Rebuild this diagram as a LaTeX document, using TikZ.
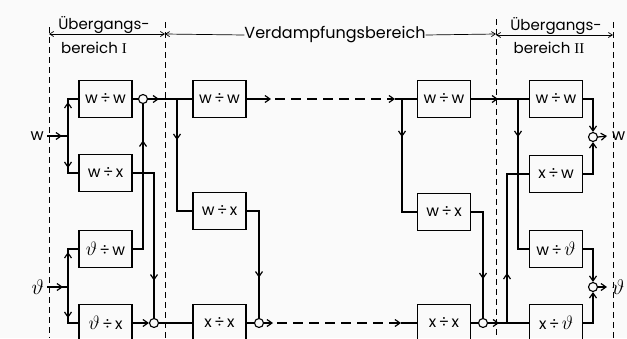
\RequirePackage{fix-cm}
\documentclass[tikz,border=0pt]{standalone}
\usepackage{fontspec}
\setmainfont{Poppins}
\newfontfamily\romnum{Liberation Serif}
\usetikzlibrary{arrows.meta,decorations.markings}
\newcommand{\thv}{\scalebox{1.25}{$\vartheta$}}
\begin{document}
\begin{tikzpicture}[x=1pt,y=-1pt,
  box/.style={draw,line width=1.1pt,minimum width=53pt,minimum height=37pt,inner sep=0pt,font=\fontsize{15.5}{15.5}\selectfont},
  sumc/.style={draw,circle,line width=1.1pt,minimum size=9pt,inner sep=0pt},
  conn/.style={line width=1.2pt},
  marr/.style={postaction={decorate},decoration={markings,mark=at position #1 with {\arrow{Straight Barb[length=5pt,width=7pt]}}}},
  endarr/.style={-{Straight Barb[length=5pt,width=7pt]}},
  hdash/.style={line width=1.2pt,dash pattern=on 10pt off 6pt,dash phase=12pt},
  vdash/.style={line width=0.9pt,dash pattern=on 6pt off 4pt},
  dimline/.style={line width=0.7pt},
  lab/.style={font=\fontsize{16}{16}\selectfont,inner sep=0pt},
  sublab/.style={font=\fontsize{15}{15}\selectfont,inner sep=0pt},
  io/.style={font=\fontsize{16}{16}\selectfont,inner sep=3pt}
]
\useasboundingbox (0,0) rectangle (627,338);
\fill[gray!4] (0,0) rectangle (627,338);
\clip (0,0) rectangle (627,338);

% region boundaries
\draw[vdash] (49,27) -- (49,338);
\draw[vdash] (165,22) -- (165,338);
\draw[vdash] (496,19) -- (496,338);
\draw[vdash] (613,22) -- (613,338);

% region labels
\node[sublab,anchor=base] (u1) at (104,29) {Übergangs-};
\node[sublab,anchor=base] (r1) at (94,53) {bereich {\romnum I}};
\node[lab] (vb) at (335,35) {Verdampfungsbereich};
\node[sublab,anchor=base] (u2) at (556,30) {Übergangs-};
\node[sublab,anchor=base] (r2) at (549,53) {bereich {\romnum II}};
\coordinate (m1) at (49,34);
\coordinate (m2) at (165,34);
\coordinate (m3) at (496,34);
\coordinate (m3b) at (496,35);
\coordinate (m4) at (613,35);
\draw[dimline,{Straight Barb[length=4pt,width=5pt]}-{Straight Barb[length=4pt,width=5pt]}] (m1) -- (m2);
\draw[dimline,{Straight Barb[length=4pt,width=5pt]}-] (m2) -- (vb.west);
\draw[dimline,-{Straight Barb[length=4pt,width=5pt]}] (vb.east) -- (m3);
\draw[dimline,{Straight Barb[length=4pt,width=5pt]}-{Straight Barb[length=4pt,width=5pt]}] (m3b) -- (m4);

% boxes
\node[box] (b11) at (105.5,99) {w\,÷\,w};
\node[box] (b12) at (105.5,173) {w\,÷\,x};
\node[box] (b13) at (105.5,249) {\thv\,÷\,w};
\node[box] (b14) at (105.5,323) {\thv\,÷\,x};
\node[box] (b21) at (219.5,99) {w\,÷\,w};
\node[box] (b22) at (219.5,211) {w\,÷\,x};
\node[box] (b24) at (219.5,323) {x\,÷\,x};
\node[box] (b31) at (444,99) {w\,÷\,w};
\node[box] (b32) at (444,212) {w\,÷\,x};
\node[box] (b34) at (444,323) {x\,÷\,x};
\node[box] (b41) at (556,99) {w\,÷\,w};
\node[box] (b42) at (556,174) {x\,÷\,w};
\node[box] (b43) at (556,249) {w\,÷\,\thv};
\node[box] (b44) at (556,323) {x\,÷\,\thv};

% summing points
\node[sumc] (s1) at (143,99) {};
\node[sumc] (s2) at (154,323) {};
\node[sumc] (s3) at (259,323) {};
\node[sumc] (s4) at (483,323) {};
\node[sumc] (s5) at (593,137) {};
\node[sumc] (s6) at (593,287) {};

% inputs / outputs
\node[io,anchor=east] (inw) at (47,136) {w};
\node[io,anchor=east,font=\fontsize{17}{17}\selectfont] (inth) at (47,287) {\thv};
\node[io,anchor=west,inner sep=5pt] (outw) at (607,136) {w};
\node[io,anchor=west,inner sep=5pt,font=\fontsize{17}{17}\selectfont] (outth) at (607,287) {\thv};

% junctions
\coordinate (jw) at (68,136);
\coordinate (jt) at (68,287);
\coordinate (ja) at (177,99);
\coordinate (jb) at (402,99);
\coordinate (jc) at (518,99);
\coordinate (jd) at (507,323);
\coordinate (d1) at (271,99);
\coordinate (d2) at (395,99);
\coordinate (d3) at (273,323);
\coordinate (d4) at (401,323);

% transition region I
\draw[conn,marr=15pt] (inw.east) -- (jw);
\draw[conn,marr=34pt] (jw) |- (b11.west);
\draw[conn,marr=32pt] (jw) |- (b12.west);
\draw[conn,marr=16pt] (inth.east) -- (jt);
\draw[conn,marr=35pt] (jt) |- (b13.west);
\draw[conn,marr=31pt] (jt) |- (b14.west);
\draw[conn] (b11.east) -- (s1.west);
\draw[conn,marr=119pt] (b13.east) -| (s1.south);
\draw[conn,marr=129pt] (b12.east) -| (s2.north);
\draw[conn,endarr] (b14.east) -- (s2.west);

% evaporation region
\draw[conn,marr=11pt] (s1.east) -- (b21.west);
\draw[conn,marr=41pt] (ja) |- (b22.west);
\draw[conn,endarr] (b21.east) -- (d1);
\draw[hdash,endarr] (d1) -- (d2);
\draw[conn] (d2) -- (b31.west);
\draw[conn,marr=38pt] (jb) |- (b32.west);
\draw[conn,marr=79pt] (b22.east) -| (s3.north);
\draw[conn] (s2.east) -- (b24.west);
\draw[conn] (b24.east) -- (s3.west);
\draw[conn,endarr] (s3.east) -- (d3);
\draw[hdash,endarr] (d3) -- (d4);
\draw[conn] (d4) -- (b34.west);
\draw[conn,marr=79pt] (b32.east) -| (s4.north);
\draw[conn] (b34.east) -- (s4.west);

% transition region II
\draw[conn,marr=27pt] (b31.east) -- (b41.west);
\draw[conn,marr=38pt] (jc) |- (b43.west);
\draw[conn,marr=11pt] (s4.east) -- (b44.west);
\draw[conn,marr=50pt] (jd) |- (b42.west);
\draw[conn,endarr] (b41.east) -| (s5.north);
\draw[conn,endarr] (b42.east) -| (s5.south);
\draw[conn,endarr] (b43.east) -| (s6.north);
\draw[conn,endarr] (b44.east) -| (s6.south);
\draw[conn,endarr] (s5.east) -- (outw.west);
\draw[conn,endarr] (s6.east) -- (outth.west);
\end{tikzpicture}
\end{document}
